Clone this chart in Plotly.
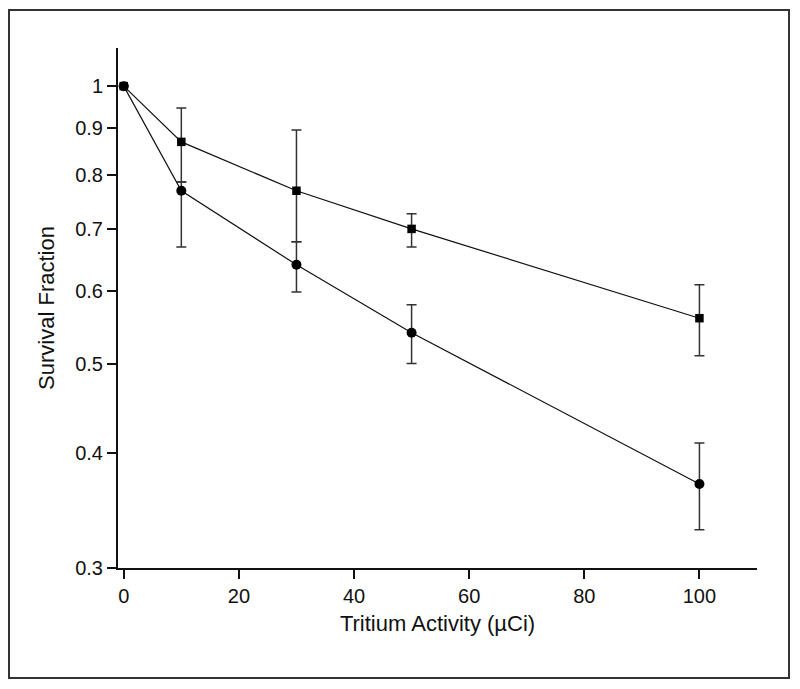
import plotly.graph_objects as go
import math

activity = [0, 10, 30, 50, 100]

sq_val = [1.0, 0.87, 0.77, 0.70, 0.56]
sq_hi = [1.0, 0.947, 0.896, 0.727, 0.609]
sq_lo = [1.0, 0.787, 0.678, 0.669, 0.51]

ci_val = [1.0, 0.77, 0.64, 0.54, 0.37]
ci_hi = [1.0, 0.787, 0.678, 0.579, 0.41]
ci_lo = [1.0, 0.669, 0.598, 0.50, 0.33]

y_ticks = [0.3, 0.4, 0.5, 0.6, 0.7, 0.8, 0.9, 1]
y_tick_labels = ["0.3", "0.4", "0.5", "0.6", "0.7", "0.8", "0.9", "1"]
x_ticks = [0, 20, 40, 60, 80, 100]

FAM = "Liberation Sans, Arial, sans-serif"
tick_font = dict(family=FAM, size=20, color="#111")
title_font = dict(family=FAM, size=22, color="#111")


def trace(vals, hi, lo, symbol, size):
    return go.Scatter(
        x=activity, y=vals, mode="lines+markers",
        line=dict(color="#111", width=1.2),
        marker=dict(symbol=symbol, size=size, color="#000"),
        error_y=dict(type="data", symmetric=False,
                     array=[h - v for h, v in zip(hi, vals)],
                     arrayminus=[v - l for v, l in zip(vals, lo)],
                     color="#333", thickness=1.5, width=5),
        showlegend=False, cliponaxis=False,
    )


fig = go.Figure()
fig.add_trace(trace(ci_val, ci_hi, ci_lo, "circle", 10))
fig.add_trace(trace(sq_val, sq_hi, sq_lo, "square", 8.5))

# page body has an 8px margin; compensate so the figure lands at viewport coordinates
OFF = 8
W, H = 800 - OFF, 689 - OFF
L, R, T, B = 118 - OFF, 800 - 757, 48 - OFF, 689 - 568
pw, ph = W - L - R, H - T - B

fig.update_layout(
    width=W, height=H,
    margin=dict(l=L, r=R, t=T, b=B, pad=0),
    paper_bgcolor="white", plot_bgcolor="white",
    font=tick_font,
    xaxis=dict(range=[-1, 110], tickvals=x_ticks, ticks="outside", ticklen=9,
               tickwidth=1.5, tickcolor="#111", showline=True, linecolor="#111",
               linewidth=2, showgrid=False, zeroline=False, tickfont=tick_font,
               title=dict(text="Tritium Activity (µCi)", font=title_font, standoff=10)),
    yaxis=dict(type="log", range=[math.log10(0.3), math.log10(1.1)],
               tickvals=y_ticks, ticktext=y_tick_labels, ticks="outside",
               ticklen=9, tickwidth=1.5, tickcolor="#111", showline=True,
               linecolor="#111", linewidth=2, showgrid=False, zeroline=False,
               tickfont=tick_font,
               title=dict(text="Survival Fraction", font=title_font, standoff=14)),
    shapes=[dict(type="rect", xref="paper", yref="paper",
                 x0=(9 - OFF - L) / pw, x1=(789 - OFF - L) / pw,
                 y0=(H - B - (678 - OFF)) / ph, y1=(H - B - (10 - OFF)) / ph,
                 line=dict(color="#333", width=2), fillcolor="rgba(0,0,0,0)",
                 layer="below")],
)

fig.write_html("out.html")
